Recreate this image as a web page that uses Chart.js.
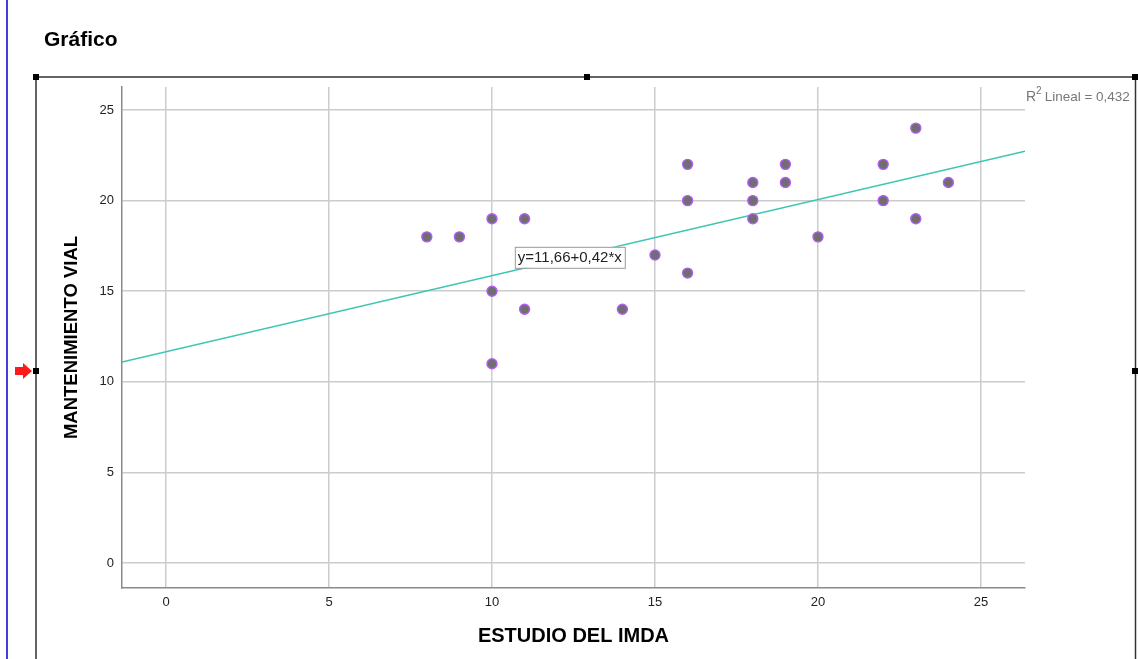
<!DOCTYPE html>
<html>
<head>
<meta charset="utf-8">
<script src="https://cdn.jsdelivr.net/npm/chart.js@4.4.1/dist/chart.umd.min.js"></script>
<style>
  html, body { margin: 0; padding: 0; background: #fff; }
  #wrap { position: relative; width: 1138px; height: 659px; }
</style>
</head>
<body>
<div id="wrap"><canvas id="chart" width="1138" height="659"></canvas></div>
<script>
// data
const imdaValues = [8, 9, 10, 10, 10, 11, 11, 14, 15, 16, 16, 16, 18, 18, 18, 19, 19, 20, 22, 22, 23, 23, 24];
const vialValues = [18, 18, 19, 15, 11, 19, 14, 14, 17, 22, 20, 16, 21, 20, 19, 22, 21, 18, 22, 20, 24, 19, 21];
const tickValues = [0, 5, 10, 15, 20, 25];
const intercept = 11.66;
const slope = 0.42;
const rSquared = '0,432';
const xRange = [-1.35, 26.35];
const yRange = [-1.38, 26.27];

const points = imdaValues.map((x, i) => ({ x: x, y: vialValues[i] }));
const fitLine = xRange.map(x => ({ x: x, y: intercept + slope * x }));

const FONT = 'Arial, "Liberation Sans", sans-serif';

const decorPlugin = {
    id: 'decor',
    beforeDraw(chart) {
        const ctx = chart.ctx;
        ctx.save();
        // title
        ctx.fillStyle = '#000';
        ctx.font = 'bold 21px ' + FONT;
        ctx.textBaseline = 'middle';
        ctx.fillText('Gráfico', 44, 40);
        // blue margin line
        ctx.strokeStyle = '#0000cc';
        ctx.lineWidth = 1.5;
        ctx.beginPath();
        ctx.moveTo(7, 0); ctx.lineTo(7, 659);
        ctx.stroke();
        // frame
        ctx.strokeStyle = '#333';
        ctx.lineWidth = 1.5;
        ctx.beginPath();
        ctx.moveTo(36, 77); ctx.lineTo(1136, 77);
        ctx.moveTo(36, 77); ctx.lineTo(36, 659);
        ctx.moveTo(1135.5, 77); ctx.lineTo(1135.5, 659);
        ctx.stroke();
        ctx.fillStyle = '#000';
        [[36, 77], [587, 77], [1135, 77], [36, 371], [1135, 371]].forEach(p => {
            ctx.fillRect(p[0] - 3, p[1] - 3, 6, 6);
        });
        // red arrow
        ctx.fillStyle = '#ff1a1a';
        ctx.beginPath();
        ctx.moveTo(15, 367); ctx.lineTo(23, 367); ctx.lineTo(23, 363);
        ctx.lineTo(32, 371); ctx.lineTo(23, 379); ctx.lineTo(23, 375);
        ctx.lineTo(15, 375); ctx.closePath();
        ctx.fill();
        ctx.restore();
    },
    afterDatasetsDraw(chart) {
        const ctx = chart.ctx;
        const xs = chart.scales.x, ys = chart.scales.y;
        ctx.save();
        // equation label
        const label = 'y=' + intercept.toFixed(2).replace('.', ',') + '+' + slope.toFixed(2).replace('.', ',') + '*x';
        ctx.font = '15px ' + FONT;
        const w = ctx.measureText(label).width + 6;
        const bx = xs.getPixelForValue(10.7), by = ys.getPixelForValue(17.45);
        ctx.fillStyle = '#fff';
        ctx.fillRect(bx, by, w, 21);
        ctx.strokeStyle = '#999';
        ctx.lineWidth = 1;
        ctx.strokeRect(bx + 0.5, by + 0.5, w, 21);
        ctx.fillStyle = '#222';
        ctx.textBaseline = 'middle';
        ctx.fillText(label, bx + 3, by + 11.5);
        // R squared
        ctx.fillStyle = '#777';
        ctx.font = '14px ' + FONT;
        let tx = 1026;
        ctx.fillText('R', tx, 97);
        tx += ctx.measureText('R').width;
        ctx.font = '10px ' + FONT;
        ctx.fillText('2', tx, 91);
        tx += ctx.measureText('2').width + 3;
        ctx.font = '13.5px ' + FONT;
        ctx.fillText('Lineal = ' + rSquared, tx, 97);
        ctx.restore();
    }
};

new Chart(document.getElementById('chart'), {
    type: 'scatter',
    data: {
        datasets: [{
            type: 'line',
            data: fitLine,
            borderColor: '#3cc6b2',
            borderWidth: 1.5,
            pointRadius: 0,
            fill: false,
            order: 2
        }, {
            data: points,
            backgroundColor: '#6f6f6f',
            borderColor: '#b45cf5',
            borderWidth: 1.4,
            pointRadius: 5,
            pointHoverRadius: 5,
            order: 1
        }]
    },
    options: {
        responsive: false,
        animation: false,
        events: [],
        layout: { padding: { top: 87, right: 113, bottom: 8, left: 57 } },
        plugins: { legend: { display: false }, tooltip: { enabled: false } },
        scales: {
            x: {
                type: 'linear',
                min: xRange[0],
                max: xRange[1],
                afterBuildTicks: s => { s.ticks = tickValues.map(v => ({ value: v })); },
                afterFit: s => { s.height = 63; },
                grid: { color: '#cccccc', lineWidth: 1.5, drawTicks: false },
                border: { color: '#8a8a8a', width: 1.5 },
                ticks: { color: '#222', font: { family: FONT, size: 13 }, padding: 7 },
                title: {
                    display: true,
                    text: 'ESTUDIO DEL IMDA',
                    color: '#000',
                    font: { family: FONT, size: 20, weight: 'bold' },
                    padding: { top: 4, bottom: 3 }
                }
            },
            y: {
                type: 'linear',
                min: yRange[0],
                max: yRange[1],
                afterBuildTicks: s => { s.ticks = tickValues.map(v => ({ value: v })); },
                afterFit: s => { s.width = 122 - 57; },
                grid: { color: '#cccccc', lineWidth: 1.5, drawTicks: false },
                border: { color: '#8a8a8a', width: 1.5 },
                ticks: { color: '#222', font: { family: FONT, size: 13 }, padding: 8 },
                title: {
                    display: true,
                    text: 'MANTENIMIENTO VIAL',
                    color: '#000',
                    font: { family: FONT, size: 18.5, weight: 'bold' },
                    padding: { top: 4, bottom: 4 }
                }
            }
        }
    },
    plugins: [decorPlugin]
});
</script>
</body>
</html>
